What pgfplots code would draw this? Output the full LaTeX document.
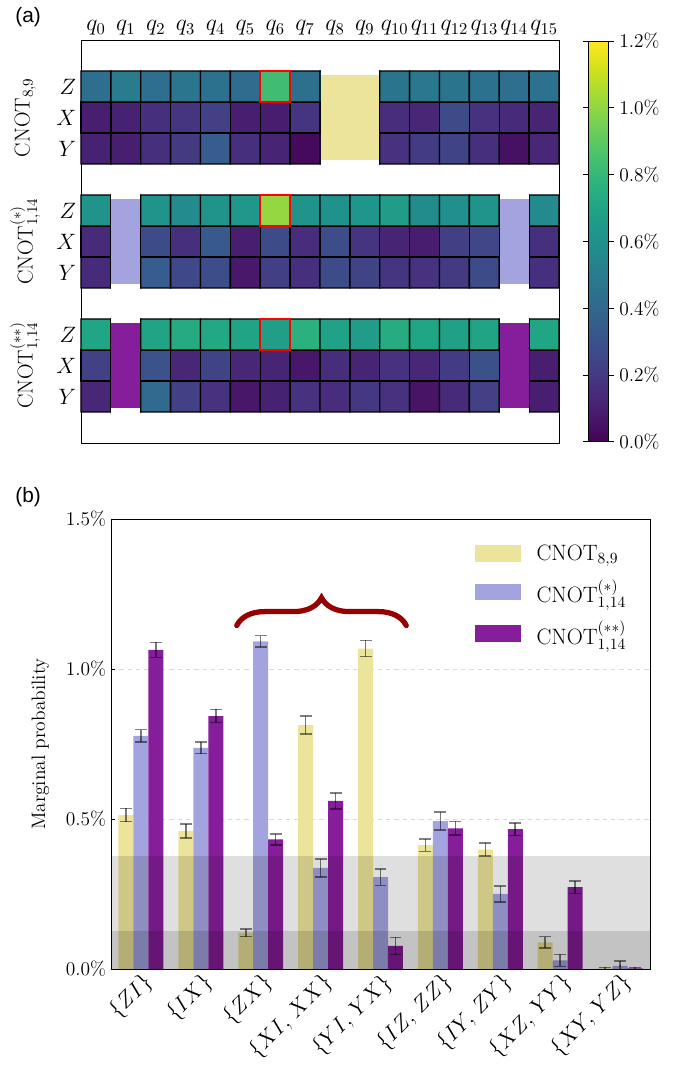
\documentclass[border=0pt]{standalone}
\usepackage{fix-cm}
\usepackage{fontspec}
\newfontfamily\labelfont{Liberation Sans}
\usepackage{pgfplots}
\usepackage{pgfplotstable}
\pgfplotsset{compat=1.18}
\usepgfplotslibrary{colormaps}
\usetikzlibrary{decorations.pathreplacing}

\definecolor{khakiC}{RGB}{236,228,154}
\definecolor{lavC}{RGB}{163,163,224}
\definecolor{purpC}{RGB}{134,29,154}
\definecolor{braceC}{RGB}{150,0,0}

% heatmap groups: x = qubit, y = row (Z/X/Y), c = value in %
\pgfplotstableread{
x y c
0 9.5 0.11
1 9.5 0.10
2 9.5 0.16
3 9.5 0.20
4 9.5 0.35
5 9.5 0.16
6 9.5 0.12
7 9.5 0.03
8 9.5 0.10
9 9.5 0.10
10 9.5 0.17
11 9.5 0.21
12 9.5 0.24
13 9.5 0.16
14 9.5 0.05
15 9.5 0.13
0 10.5 0.10
1 10.5 0.11
2 10.5 0.16
3 10.5 0.18
4 10.5 0.23
5 10.5 0.10
6 10.5 0.09
7 10.5 0.18
8 10.5 0.10
9 10.5 0.10
10 10.5 0.15
11 10.5 0.13
12 10.5 0.27
13 10.5 0.17
14 10.5 0.14
15 10.5 0.12
0 11.5 0.43
1 11.5 0.50
2 11.5 0.43
3 11.5 0.47
4 11.5 0.45
5 11.5 0.42
6 11.5 0.83
7 11.5 0.44
8 11.5 0.50
9 11.5 0.50
10 11.5 0.46
11 11.5 0.48
12 11.5 0.46
13 11.5 0.45
14 11.5 0.43
15 11.5 0.45
}\gA

\pgfplotstableread{
x y c
0 5.5 0.14
1 5.5 0.20
2 5.5 0.35
3 5.5 0.26
4 5.5 0.28
5 5.5 0.08
6 5.5 0.22
7 5.5 0.16
8 5.5 0.27
9 5.5 0.24
10 5.5 0.18
11 5.5 0.17
12 5.5 0.20
13 5.5 0.27
14 5.5 0.20
15 5.5 0.16
0 6.5 0.14
1 6.5 0.20
2 6.5 0.27
3 6.5 0.16
4 6.5 0.33
5 6.5 0.10
6 6.5 0.27
7 6.5 0.15
8 6.5 0.28
9 6.5 0.18
10 6.5 0.12
11 6.5 0.09
12 6.5 0.22
13 6.5 0.25
14 6.5 0.20
15 6.5 0.16
0 7.5 0.62
1 7.5 0.60
2 7.5 0.62
3 7.5 0.57
4 7.5 0.62
5 7.5 0.64
6 7.5 1.01
7 7.5 0.62
8 7.5 0.61
9 7.5 0.63
10 7.5 0.66
11 7.5 0.58
12 7.5 0.60
13 7.5 0.62
14 7.5 0.60
15 7.5 0.57
}\gB

\pgfplotstableread{
x y c
0 1.5 0.13
1 1.5 0.20
2 1.5 0.41
3 1.5 0.23
4 1.5 0.17
5 1.5 0.07
6 1.5 0.11
7 1.5 0.17
8 1.5 0.15
9 1.5 0.19
10 1.5 0.17
11 1.5 0.06
12 1.5 0.14
13 1.5 0.23
14 1.5 0.20
15 1.5 0.10
0 2.5 0.23
1 2.5 0.20
2 2.5 0.30
3 2.5 0.13
4 2.5 0.24
5 2.5 0.13
6 2.5 0.12
7 2.5 0.07
8 2.5 0.15
9 2.5 0.12
10 2.5 0.17
11 2.5 0.13
12 2.5 0.21
13 2.5 0.29
14 2.5 0.20
15 2.5 0.10
0 3.5 0.71
1 3.5 0.70
2 3.5 0.70
3 3.5 0.73
4 3.5 0.72
5 3.5 0.70
6 3.5 0.67
7 3.5 0.76
8 3.5 0.69
9 3.5 0.66
10 3.5 0.74
11 3.5 0.71
12 3.5 0.68
13 3.5 0.70
14 3.5 0.70
15 3.5 0.71
}\gC

% marginal probabilities (%), with error
\pgfplotstableread{
x y e
0 0.513 0.022
1 0.460 0.024
2 0.121 0.013
3 0.813 0.030
4 1.068 0.027
5 0.413 0.021
6 0.398 0.022
7 0.089 0.019
8 0.002 0.003
}\barA

\pgfplotstableread{
x y e
0 0.777 0.021
1 0.737 0.019
2 1.092 0.019
3 0.337 0.030
4 0.306 0.027
5 0.493 0.030
6 0.250 0.027
7 0.029 0.020
8 0.010 0.016
}\barB

\pgfplotstableread{
x y e
0 1.064 0.025
1 0.843 0.022
2 0.432 0.018
3 0.560 0.027
4 0.077 0.028
5 0.469 0.023
6 0.466 0.021
7 0.273 0.021
8 0.002 0.003
}\barC

\pgfplotsset{
  errb/.style={error bars/.cd, y dir=both, y explicit,
    error bar style={line width=1.1pt, black, opacity=0.5},
    error mark options={rotate=90, line width=1.1pt, black, opacity=0.5, mark size=4.3pt}},
  sw/.style={legend image code/.code={\fill[##1] (0pt,-6.1pt) rectangle (33pt,6.1pt);}},
}

\begin{document}
\begin{tikzpicture}
\path[use as bounding box] (0pt,0pt) rectangle (489.6pt,766.8pt);
\node[font=\labelfont\fontsize{15}{18}\selectfont] at (20.2pt,754.6pt) {(a)};
\node[font=\labelfont\fontsize{15}{18}\selectfont] at (20.2pt,409pt) {(b)};

\begin{axis}[
  at={(58.32pt,738pt)}, anchor=north west,
  scale only axis, width=344.16pt, height=290.16pt,
  xmin=-0.5, xmax=15.5, ymin=0, ymax=13,
  axis line style={line width=0.7pt},
  xtick={0,...,15},
  xticklabels={$q_{0}$,$q_{1}$,$q_{2}$,$q_{3}$,$q_{4}$,$q_{5}$,$q_{6}$,$q_{7}$,$q_{8}$,$q_{9}$,$q_{10}$,$q_{11}$,$q_{12}$,$q_{13}$,$q_{14}$,$q_{15}$},
  xticklabel pos=right,
  ytick={1.5,2.5,3.5,5.5,6.5,7.5,9.5,10.5,11.5},
  yticklabels={$Y$,$X$,$Z$,$Y$,$X$,$Z$,$Y$,$X$,$Z$},
  major tick style={draw=none},
  xticklabel style={font=\fontsize{17}{20}\selectfont},
  yticklabel style={font=\fontsize{16}{19}\selectfont},
  colormap/viridis,
  point meta min=0, point meta max=1.2,
  colorbar,
  colorbar style={
    at={(parent axis.north east)}, anchor=north west,
    xshift=12.96pt, yshift=-0.72pt,
    scale only axis, width=14.4pt, height=288.7pt,
    ytick={0,0.2,0.4,0.6,0.8,1.0,1.2},
    yticklabels={$0.0\%$,$0.2\%$,$0.4\%$,$0.6\%$,$0.8\%$,$1.0\%$,$1.2\%$},
    yticklabel style={font=\fontsize{14}{17}\selectfont},
    major tick style={draw=black, line width=0.7pt},
    tick align=outside, major tick length=4pt,
    axis line style={line width=0.7pt},
  },
  clip=false,
]
\addplot[matrix plot*, shader=faceted, faceted color=black, line width=1pt,
  mesh/cols=16, point meta=explicit] table[x=x,y=y,meta=c] {\gA};
\addplot[matrix plot*, shader=faceted, faceted color=black, line width=1pt,
  mesh/cols=16, point meta=explicit] table[x=x,y=y,meta=c] {\gB};
\addplot[matrix plot*, shader=faceted, faceted color=black, line width=1pt,
  mesh/cols=16, point meta=explicit] table[x=x,y=y,meta=c] {\gC};

% gate qubits
\fill[white] (axis cs:7.52,8.94) rectangle (axis cs:9.48,12.06);
\fill[khakiC] (axis cs:7.52,9.12) rectangle (axis cs:9.48,11.88);
\fill[white] (axis cs:0.52,4.94) rectangle (axis cs:1.48,8.06);
\fill[white] (axis cs:13.52,4.94) rectangle (axis cs:14.48,8.06);
\fill[lavC] (axis cs:0.52,5.12) rectangle (axis cs:1.48,7.88);
\fill[lavC] (axis cs:13.52,5.12) rectangle (axis cs:14.48,7.88);
\fill[white] (axis cs:0.52,0.94) rectangle (axis cs:1.48,4.06);
\fill[white] (axis cs:13.52,0.94) rectangle (axis cs:14.48,4.06);
\fill[purpC] (axis cs:0.52,1.12) rectangle (axis cs:1.48,3.88);
\fill[purpC] (axis cs:13.52,1.12) rectangle (axis cs:14.48,3.88);

\draw[red, line width=1.4pt] (axis cs:5.5,11) rectangle (axis cs:6.5,12);
\draw[red, line width=1.4pt] (axis cs:5.5,7) rectangle (axis cs:6.5,8);
\draw[red, line width=1.4pt] (axis cs:5.5,3) rectangle (axis cs:6.5,4);

\node[rotate=90, font=\fontsize{15.5}{18}\selectfont] at (axis cs:-2.37,10.5) {$\mathrm{CNOT}_{8,9}$};
\node[rotate=90, font=\fontsize{15.5}{18}\selectfont] at (axis cs:-2.37,6.5) {$\mathrm{CNOT}^{(*)}_{1,14}$};
\node[rotate=90, font=\fontsize{15.5}{18}\selectfont] at (axis cs:-2.37,2.5) {$\mathrm{CNOT}^{(**)}_{1,14}$};
\end{axis}

\begin{axis}[
  at={(79.92pt,393.12pt)}, anchor=north west,
  scale only axis, width=388.08pt, height=324pt,
  xmin=-0.5, xmax=8.5, ymin=0, ymax=1.5,
  axis line style={line width=0.7pt},
  xtick={0,...,8},
  xticklabels={{$\{ZI\}$},{$\{IX\}$},{$\{ZX\}$},{$\{XI,\,XX\}$},{$\{YI,\,YX\}$},{$\{IZ,\,ZZ\}$},{$\{IY,\,ZY\}$},{$\{XZ,\,YY\}$},{$\{XY,\,YZ\}$}},
  xticklabel style={rotate=45, anchor=north east, font=\fontsize{16}{19}\selectfont, inner sep=1pt},
  ytick={0,0.5,1,1.5},
  yticklabels={$0.0\%$,$0.5\%$,$1.0\%$,$1.5\%$},
  yticklabel style={font=\fontsize{14}{17}\selectfont},
  tick align=inside, major tick length=3pt, xtick pos=lower, ytick pos=left,
  major tick style={line width=0.6pt, black},
  ymajorgrids, major grid style={dashed, black!15, line width=0.5pt},
  ylabel={Marginal probability},
  ylabel style={at={(axis description cs:-0.131,0.5)}, anchor=center, font=\fontsize{14}{17}\selectfont},
  legend style={at={(0.668,0.955)}, anchor=north west, draw=none, fill=none,
    font=\fontsize{16}{19}\selectfont, row sep=8pt, cells={anchor=west},
    /tikz/every odd column/.append style={column sep=9pt}},
]
\addplot[ybar, bar width=10.8pt, bar shift=0pt, fill=khakiC, draw=none, sw, errb]
  table[x expr=\thisrow{x}-0.25,y=y,y error=e] {\barA};
\addlegendentry{$\mathrm{CNOT}_{8,9}$}
\addplot[ybar, bar width=10.8pt, bar shift=0pt, fill=lavC, draw=none, sw, errb]
  table[x=x,y=y,y error=e] {\barB};
\addlegendentry{$\mathrm{CNOT}^{(*)}_{1,14}$}
\addplot[ybar, bar width=10.8pt, bar shift=0pt, fill=purpC, draw=none, sw, errb]
  table[x expr=\thisrow{x}+0.25,y=y,y error=e] {\barC};
\addlegendentry{$\mathrm{CNOT}^{(**)}_{1,14}$}

% threshold bands
\addplot[draw=none, fill=black, fill opacity=0.125, forget plot] coordinates {(-0.5,0.375) (8.5,0.375)} \closedcycle;
\addplot[draw=none, fill=black, fill opacity=0.125, forget plot] coordinates {(-0.5,0.125) (8.5,0.125)} \closedcycle;

\draw[braceC, line width=3.8pt, line cap=round, decorate, decoration={brace, amplitude=20pt}]
  (axis cs:1.6,1.145) -- (axis cs:4.43,1.145);
\end{axis}
\end{tikzpicture}
\end{document}
